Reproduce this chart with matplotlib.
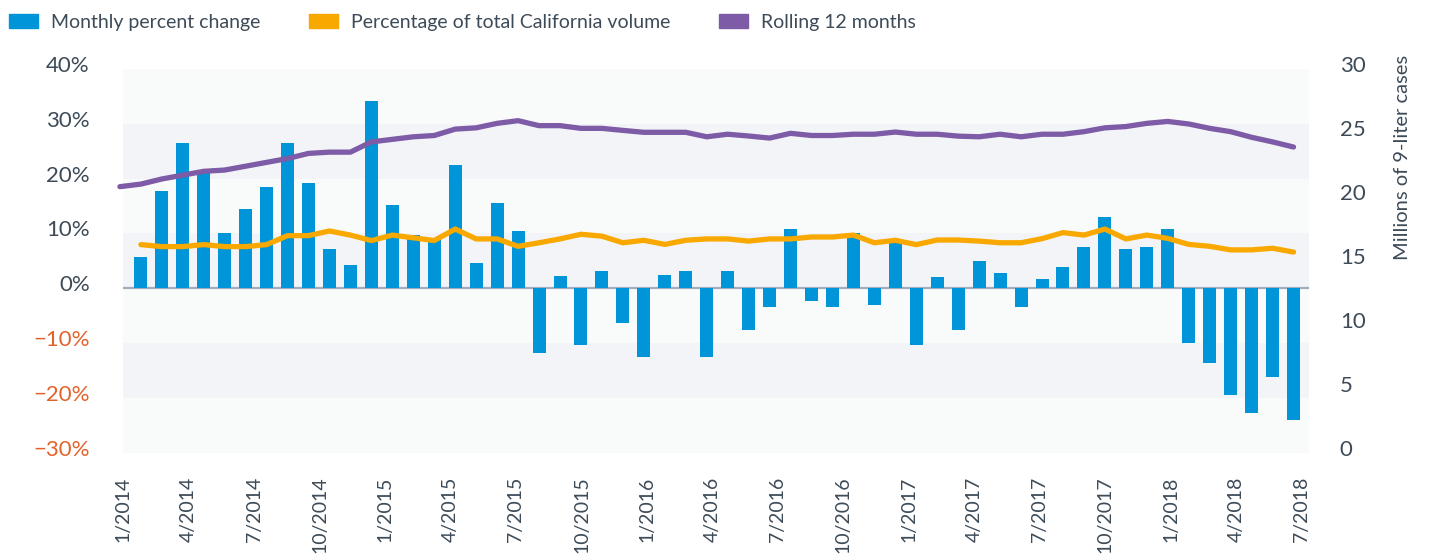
import matplotlib.pyplot as plt
import matplotlib.transforms as mtransforms
from matplotlib.patches import Patch
import numpy as np

plt.rcParams['font.family'] = ['Lato', 'DejaVu Sans']

# monthly percent change, 2/2014 .. 8/2018
monthly_change = [5.7, 17.8, 26.5, 21.5, 10.1, 14.5, 18.5, 26.5, 19.2, 7.2,
                  4.3, 34.2, 15.2, 9.7, 8.9, 22.5, 4.6, 15.6, 10.4, -11.9,
                  2.2, -10.3, 3.2, -6.3, -12.5, 2.4, 3.2, -12.5, 3.2, -7.7,
                  -3.4, 10.8, -2.3, -3.4, 10.1, -3.0, 9.0, -10.3, 2.1, -7.7,
                  5.0, 2.8, -3.4, 1.7, 3.9, 7.5, 13.0, 7.2, 7.5, 10.8,
                  -9.9, -13.6, -19.4, -22.7, -16.1, -24.0]

# percentage of total California volume (left axis)
pct_california = [7.96, 7.6, 7.6, 7.96, 7.6, 7.6, 7.96, 9.6, 9.6, 10.45,
                  9.7, 8.7, 9.7, 9.2, 8.7, 10.8, 9.0, 9.0, 7.65, 8.3,
                  9.0, 9.85, 9.5, 8.3, 8.75, 8.0, 8.75, 9.0, 9.0, 8.6,
                  9.0, 9.0, 9.35, 9.35, 9.7, 8.3, 8.75, 7.96, 8.8, 8.8,
                  8.6, 8.3, 8.3, 9.05, 10.15, 9.7, 10.8, 9.0, 9.7, 9.1,
                  8.0, 7.65, 7.0, 7.0, 7.3, 6.6]

# rolling 12 months, millions of 9-liter cases (right axis), 1/2014 .. 8/2018
rolling_12 = [20.8, 21.0, 21.4, 21.7, 22.0, 22.1, 22.4, 22.7, 23.0, 23.4,
              23.5, 23.5, 24.3, 24.5, 24.7, 24.8, 25.3, 25.4, 25.75, 25.96,
              25.57, 25.57, 25.36, 25.36, 25.2, 25.05, 25.05, 25.05, 24.7, 24.9,
              24.76, 24.6, 24.97, 24.8, 24.8, 24.9, 24.9, 25.07, 24.9, 24.9,
              24.75, 24.7, 24.9, 24.7, 24.9, 24.9, 25.1, 25.4, 25.5, 25.75,
              25.9, 25.7, 25.36, 25.1, 24.66, 24.3, 23.9]

x_labels = ['1/2014', '4/2014', '7/2014', '10/2014', '1/2015', '4/2015', '7/2015',
            '10/2015', '1/2016', '4/2016', '7/2016', '10/2016', '1/2017', '4/2017',
            '7/2017', '10/2017', '1/2018', '4/2018', '7/2018']

BLUE = '#0094d8'
ORANGE = '#f9a800'
PURPLE = '#7d5ba6'
TEXT = '#3d4b58'
NEG = '#e3622c'

fig = plt.figure(figsize=(14.29, 5.56), dpi=100)
ax = fig.add_axes([0.0861, 0.1858, 0.8301, 0.6901])

# alternating bands
for k, lo in enumerate(range(-30, 40, 10)):
    ax.axhspan(lo, lo + 10, color='#f9fafa' if k % 2 == 0 else '#f3f4f8', lw=0, zorder=0)
ax.axhline(0, color='#9fadbf', lw=1.6, zorder=1)

xb = np.arange(1, len(monthly_change) + 1)
ax.bar(xb, monthly_change, width=0.62, color=BLUE, zorder=2)
ax.plot(xb, pct_california, color=ORANGE, lw=3.8, solid_capstyle='round',
        solid_joinstyle='round', zorder=3)

ax.set_xlim(0.15, 56.75)
ax.set_ylim(-30, 40)
ax.set_yticks(range(-30, 41, 10))
ax.set_yticklabels([f'{v}%' if v >= 0 else f'\u2212{-v}%' for v in range(-30, 41, 10)])
for lab, v in zip(ax.get_yticklabels(), range(-30, 41, 10)):
    lab.set_color(NEG if v < 0 else TEXT)
ax.tick_params(axis='y', length=0, pad=24, labelsize=16)

ax.set_xticks(np.linspace(0.15, 56.4, len(x_labels)))
ax.set_xticklabels(x_labels, rotation=90, color=TEXT)
ax.tick_params(axis='x', length=0, pad=17, labelsize=14)
for s in ax.spines.values():
    s.set_visible(False)

ax2 = ax.twinx()
xr = np.arange(len(rolling_12))
ax2.plot(xr, rolling_12, color=PURPLE, lw=3.8, solid_capstyle='round',
         solid_joinstyle='round', clip_on=False, zorder=4)
ax2.set_ylim(0, 30)
ax2.set_yticks(range(0, 31, 5))
ax2.tick_params(axis='y', length=0, pad=22, labelsize=16, labelcolor=TEXT)
for s in ax2.spines.values():
    s.set_visible(False)

# tick labels sit a few pixels above their lines
off = mtransforms.ScaledTranslation(0, 5 / 100, fig.dpi_scale_trans)
for lab in ax.get_yticklabels() + ax2.get_yticklabels():
    lab.set_transform(lab.get_transform() + off)

fig.text(1403 / 1429, 1 - 55 / 556, 'Millions of 9-liter cases', rotation=90,
         ha='center', va='top', fontsize=14.5, color=TEXT)

handles = [Patch(color=BLUE), Patch(color=ORANGE), Patch(color=PURPLE)]
fig.legend(handles, ['Monthly percent change', 'Percentage of total California volume',
                     'Rolling 12 months'],
           loc='upper left', bbox_to_anchor=(-0.003, 1.0), ncol=3, frameon=False,
           fontsize=14, labelcolor=TEXT, handlelength=1.5, handleheight=0.75,
           handletextpad=0.65, columnspacing=2.5, borderaxespad=0.3)

fig.savefig('out.png', dpi=100)
